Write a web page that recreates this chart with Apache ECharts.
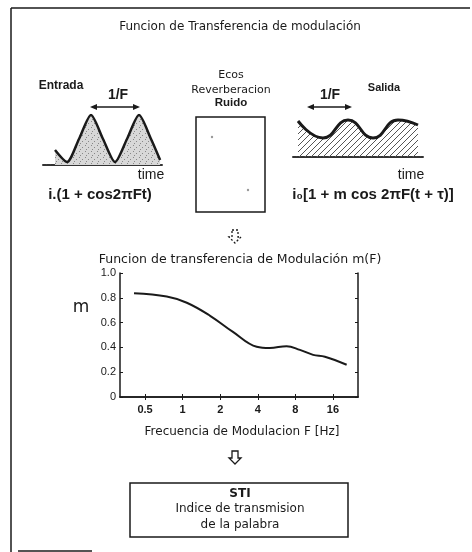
<!DOCTYPE html>
<html><head><meta charset="utf-8">
<script src="https://cdn.jsdelivr.net/npm/echarts@6/dist/echarts.min.js"></script>
<style>html,body{margin:0;padding:0;background:#fff}#c{width:472px;height:552px}</style>
</head><body><div id="c"></div>
<script>
// ---- data ----
const freqTicks = [0.5, 1, 2, 4, 8, 16];
const freqLabels = ['0.5', '1', '2', '4', '8', '16'];
const mTicks = [0, 0.2, 0.4, 0.6, 0.8, 1.0];
const mLabels = ['0', '0.2', '0.4', '0.6', '0.8', '1.0'];
const mtfFreq = [0.408, 0.746, 1.08, 1.66, 2.53, 3.92, 5.0, 6.8, 8.7, 11.1, 13.8, 20.6];
const mtfValue = [0.836, 0.81, 0.76, 0.655, 0.525, 0.405, 0.395, 0.41, 0.38, 0.34, 0.325, 0.26];
// schematic waveforms (time in periods, amplitude in arbitrary units)
const inTime = [-0.25, 0, 0.25, 0.5, 0.75, 1.0, 1.25, 1.5, 1.75, 1.94];
const inAmp  = [15, 3, 26, 50, 26, 3, 26, 50, 26, 5];
const outTime = [0, 0.5, 1.0, 1.5, 2.0, 2.4];
const outAmp  = [36, 19, 37, 19, 37, 32];

const ink = '#1a1a1a';
const FONT = '"DejaVu Sans", Arial, sans-serif';
const FONT2 = '"Liberation Sans", Arial, sans-serif';

function hatch(kind) {
  const c = document.createElement('canvas');
  c.width = 6; c.height = 6;
  const g = c.getContext('2d');
  if (kind === 'diag') {
    g.strokeStyle = '#555'; g.lineWidth = 1;
    g.beginPath(); g.moveTo(0, 6); g.lineTo(6, 0); g.stroke();
    g.beginPath(); g.moveTo(-1, 1); g.lineTo(1, -1); g.stroke();
    g.beginPath(); g.moveTo(5, 7); g.lineTo(7, 5); g.stroke();
  } else {
    g.fillStyle = '#d8d8d8'; g.fillRect(0, 0, 6, 6);
    g.fillStyle = '#888';
    g.fillRect(1, 1, 1, 1); g.fillRect(4, 3, 1, 1); g.fillRect(2, 5, 1, 1);
  }
  return c;
}

const chart = echarts.init(document.getElementById('c'), null, {renderer: 'canvas'});

function txt(x, y, s, size, opt) {
  opt = opt || {};
  return {type: 'text', x: x, y: y, style: {text: s, fill: ink,
    font: (opt.weight ? opt.weight + ' ' : '') + size + 'px ' + (opt.family || FONT),
    textAlign: 'center', textVerticalAlign: 'middle'}};
}
function dblArrow(x1, x2, y) {
  return [
    {type: 'line', shape: {x1: x1 + 4, y1: y, x2: x2 - 4, y2: y}, style: {stroke: ink, lineWidth: 1.5}},
    {type: 'polygon', shape: {points: [[x1, y], [x1 + 7, y - 3], [x1 + 7, y + 3]]}, style: {fill: ink}},
    {type: 'polygon', shape: {points: [[x2, y], [x2 - 7, y - 3], [x2 - 7, y + 3]]}, style: {fill: ink}}
  ];
}
function downArrow(cx, top, dashed) {
  const pts = [[cx - 3, top], [cx + 3, top], [cx + 3, top + 7], [cx + 6, top + 7], [cx, top + 13], [cx - 6, top + 7], [cx - 3, top + 7]];
  return {type: 'polygon', shape: {points: pts}, style: {fill: 'none', stroke: ink, lineWidth: 1.3, lineDash: dashed ? [2, 2] : null}};
}

const graphics = [
  // frame
  {type: 'line', shape: {x1: 11, y1: 8, x2: 470, y2: 8}, style: {stroke: ink, lineWidth: 1.5}},
  {type: 'line', shape: {x1: 11, y1: 8, x2: 11, y2: 552}, style: {stroke: ink, lineWidth: 1.5}},
  {type: 'line', shape: {x1: 18, y1: 551, x2: 92, y2: 551}, style: {stroke: ink, lineWidth: 1.5}},
  // titles
  txt(240, 27, 'Funcion de Transferencia de modulación', 12),
  txt(61, 86, 'Entrada', 12, {weight: 'bold', family: FONT2}),
  txt(118, 95, '1/F', 14, {weight: 'bold', family: FONT2}),
  txt(151, 175, 'time', 14, {family: FONT2}),
  txt(100, 195, 'i.(1 + cos2πFt)', 15, {weight: 'bold', family: FONT2}),
  txt(231, 75, 'Ecos', 11),
  txt(231, 90, 'Reverberacion', 11),
  txt(231, 103, 'Ruido', 11.5, {weight: 'bold', family: FONT2}),
  {type: 'rect', shape: {x: 196, y: 117, width: 69, height: 95}, style: {fill: 'none', stroke: ink, lineWidth: 1.5}},
  {type: 'circle', shape: {cx: 212, cy: 137, r: 1.2}, style: {fill: '#999'}},
  {type: 'circle', shape: {cx: 248, cy: 190, r: 1.2}, style: {fill: '#999'}},
  txt(384, 88, 'Salida', 11, {weight: 'bold', family: FONT2}),
  txt(330, 95, '1/F', 14, {weight: 'bold', family: FONT2}),
  txt(411, 175, 'time', 14, {family: FONT2}),
  txt(373, 195, 'i\u2080[1 + m cos 2πF(t + τ)]', 15, {weight: 'bold', family: FONT2}),
  downArrow(235, 230, true),
  txt(240, 260, 'Funcion de transferencia de Modulación m(F)', 12.5),
  txt(81, 308, 'm', 17),
  txt(242, 432, 'Frecuencia de Modulacion F [Hz]', 12),
  downArrow(235, 451, false),
  {type: 'rect', shape: {x: 130, y: 483, width: 218, height: 54}, style: {fill: 'none', stroke: ink, lineWidth: 1.5}},
  txt(240, 494, 'STI', 12, {weight: 'bold'}),
  txt(240, 509, 'Indice de transmision', 12),
  txt(240, 525, 'de la palabra', 12)
].concat(dblArrow(90, 140, 107), dblArrow(307, 352, 107));

const option = {
  backgroundColor: '#fff',
  animation: false,
  grid: [
    {left: 120, top: 273, width: 238, height: 124, show: false},
    {left: 43, top: 115, width: 120, height: 50, show: false},
    {left: 293, top: 117, width: 130, height: 40, show: false}
  ],
  xAxis: [
    {type: 'log', logBase: 2, gridIndex: 0, min: 0.315, max: 25.4, position: 'bottom',
     axisLine: {show: true, lineStyle: {color: ink, width: 1.5}},
     axisTick: {show: true, inside: true, length: 3, customValues: freqTicks, lineStyle: {color: ink}},
     axisLabel: {customValues: freqTicks, formatter: v => freqLabels[freqTicks.indexOf(+v)] ?? String(v), color: ink, fontSize: 11, fontWeight: 'bold', fontFamily: FONT2, margin: 7},
     splitLine: {show: false}, minorTick: {show: false}},
    {type: 'log', logBase: 2, gridIndex: 0, min: 0.315, max: 25.4, position: 'top',
     axisLine: {show: true, lineStyle: {color: ink, width: 1.5}},
     axisTick: {show: true, inside: true, length: 3, customValues: freqTicks, lineStyle: {color: ink}},
     axisLabel: {show: false}, splitLine: {show: false}},
    {type: 'value', gridIndex: 1, min: -0.5, max: 2.0, show: true,
     axisLine: {show: true, onZero: false, lineStyle: {color: '#333', width: 2, type: [3, 1]}},
     axisTick: {show: false}, axisLabel: {show: false}, splitLine: {show: false}},
    {type: 'value', gridIndex: 2, min: -0.1, max: 2.5, show: true,
     axisLine: {show: true, onZero: false, lineStyle: {color: '#333', width: 2, type: [3, 1]}},
     axisTick: {show: false}, axisLabel: {show: false}, splitLine: {show: false}}
  ],
  yAxis: [
    {type: 'value', gridIndex: 0, min: 0, max: 1, interval: 0.2, position: 'left',
     axisLine: {show: true, lineStyle: {color: ink, width: 1.5}},
     axisTick: {show: true, inside: true, length: 3, lineStyle: {color: ink}},
     axisLabel: {formatter: v => mLabels[mTicks.findIndex(t => Math.abs(t - v) < 1e-6)], color: ink, fontSize: 11, fontFamily: FONT2, margin: 4},
     splitLine: {show: false}},
    {type: 'value', gridIndex: 0, min: 0, max: 1, interval: 0.2, position: 'right',
     axisLine: {show: true, lineStyle: {color: ink, width: 1.5}},
     axisTick: {show: true, inside: true, length: 3, lineStyle: {color: ink}},
     axisLabel: {show: false}, splitLine: {show: false}},
    {type: 'value', gridIndex: 1, min: 0, max: 50, show: false},
    {type: 'value', gridIndex: 2, min: 0, max: 40, show: false}
  ],
  graphic: graphics,
  series: [
    {type: 'line', xAxisIndex: 0, yAxisIndex: 0, smooth: 0.4, symbol: 'none',
     lineStyle: {color: ink, width: 2}, data: mtfFreq.map((f, i) => [f, mtfValue[i]])},
    {type: 'line', xAxisIndex: 2, yAxisIndex: 2, smooth: 0.25, symbol: 'none',
     lineStyle: {color: ink, width: 2.5},
     areaStyle: {color: {image: hatch('dots'), repeat: 'repeat'}, opacity: 1},
     data: inTime.map((t, i) => [t, inAmp[i]])},
    {type: 'line', xAxisIndex: 3, yAxisIndex: 3, smooth: 0.5, symbol: 'none',
     lineStyle: {color: ink, width: 3},
     areaStyle: {color: {image: hatch('diag'), repeat: 'repeat'}, opacity: 1},
     data: outTime.map((t, i) => [t, outAmp[i]])}
  ]
};
chart.setOption(option);
</script></body></html>
